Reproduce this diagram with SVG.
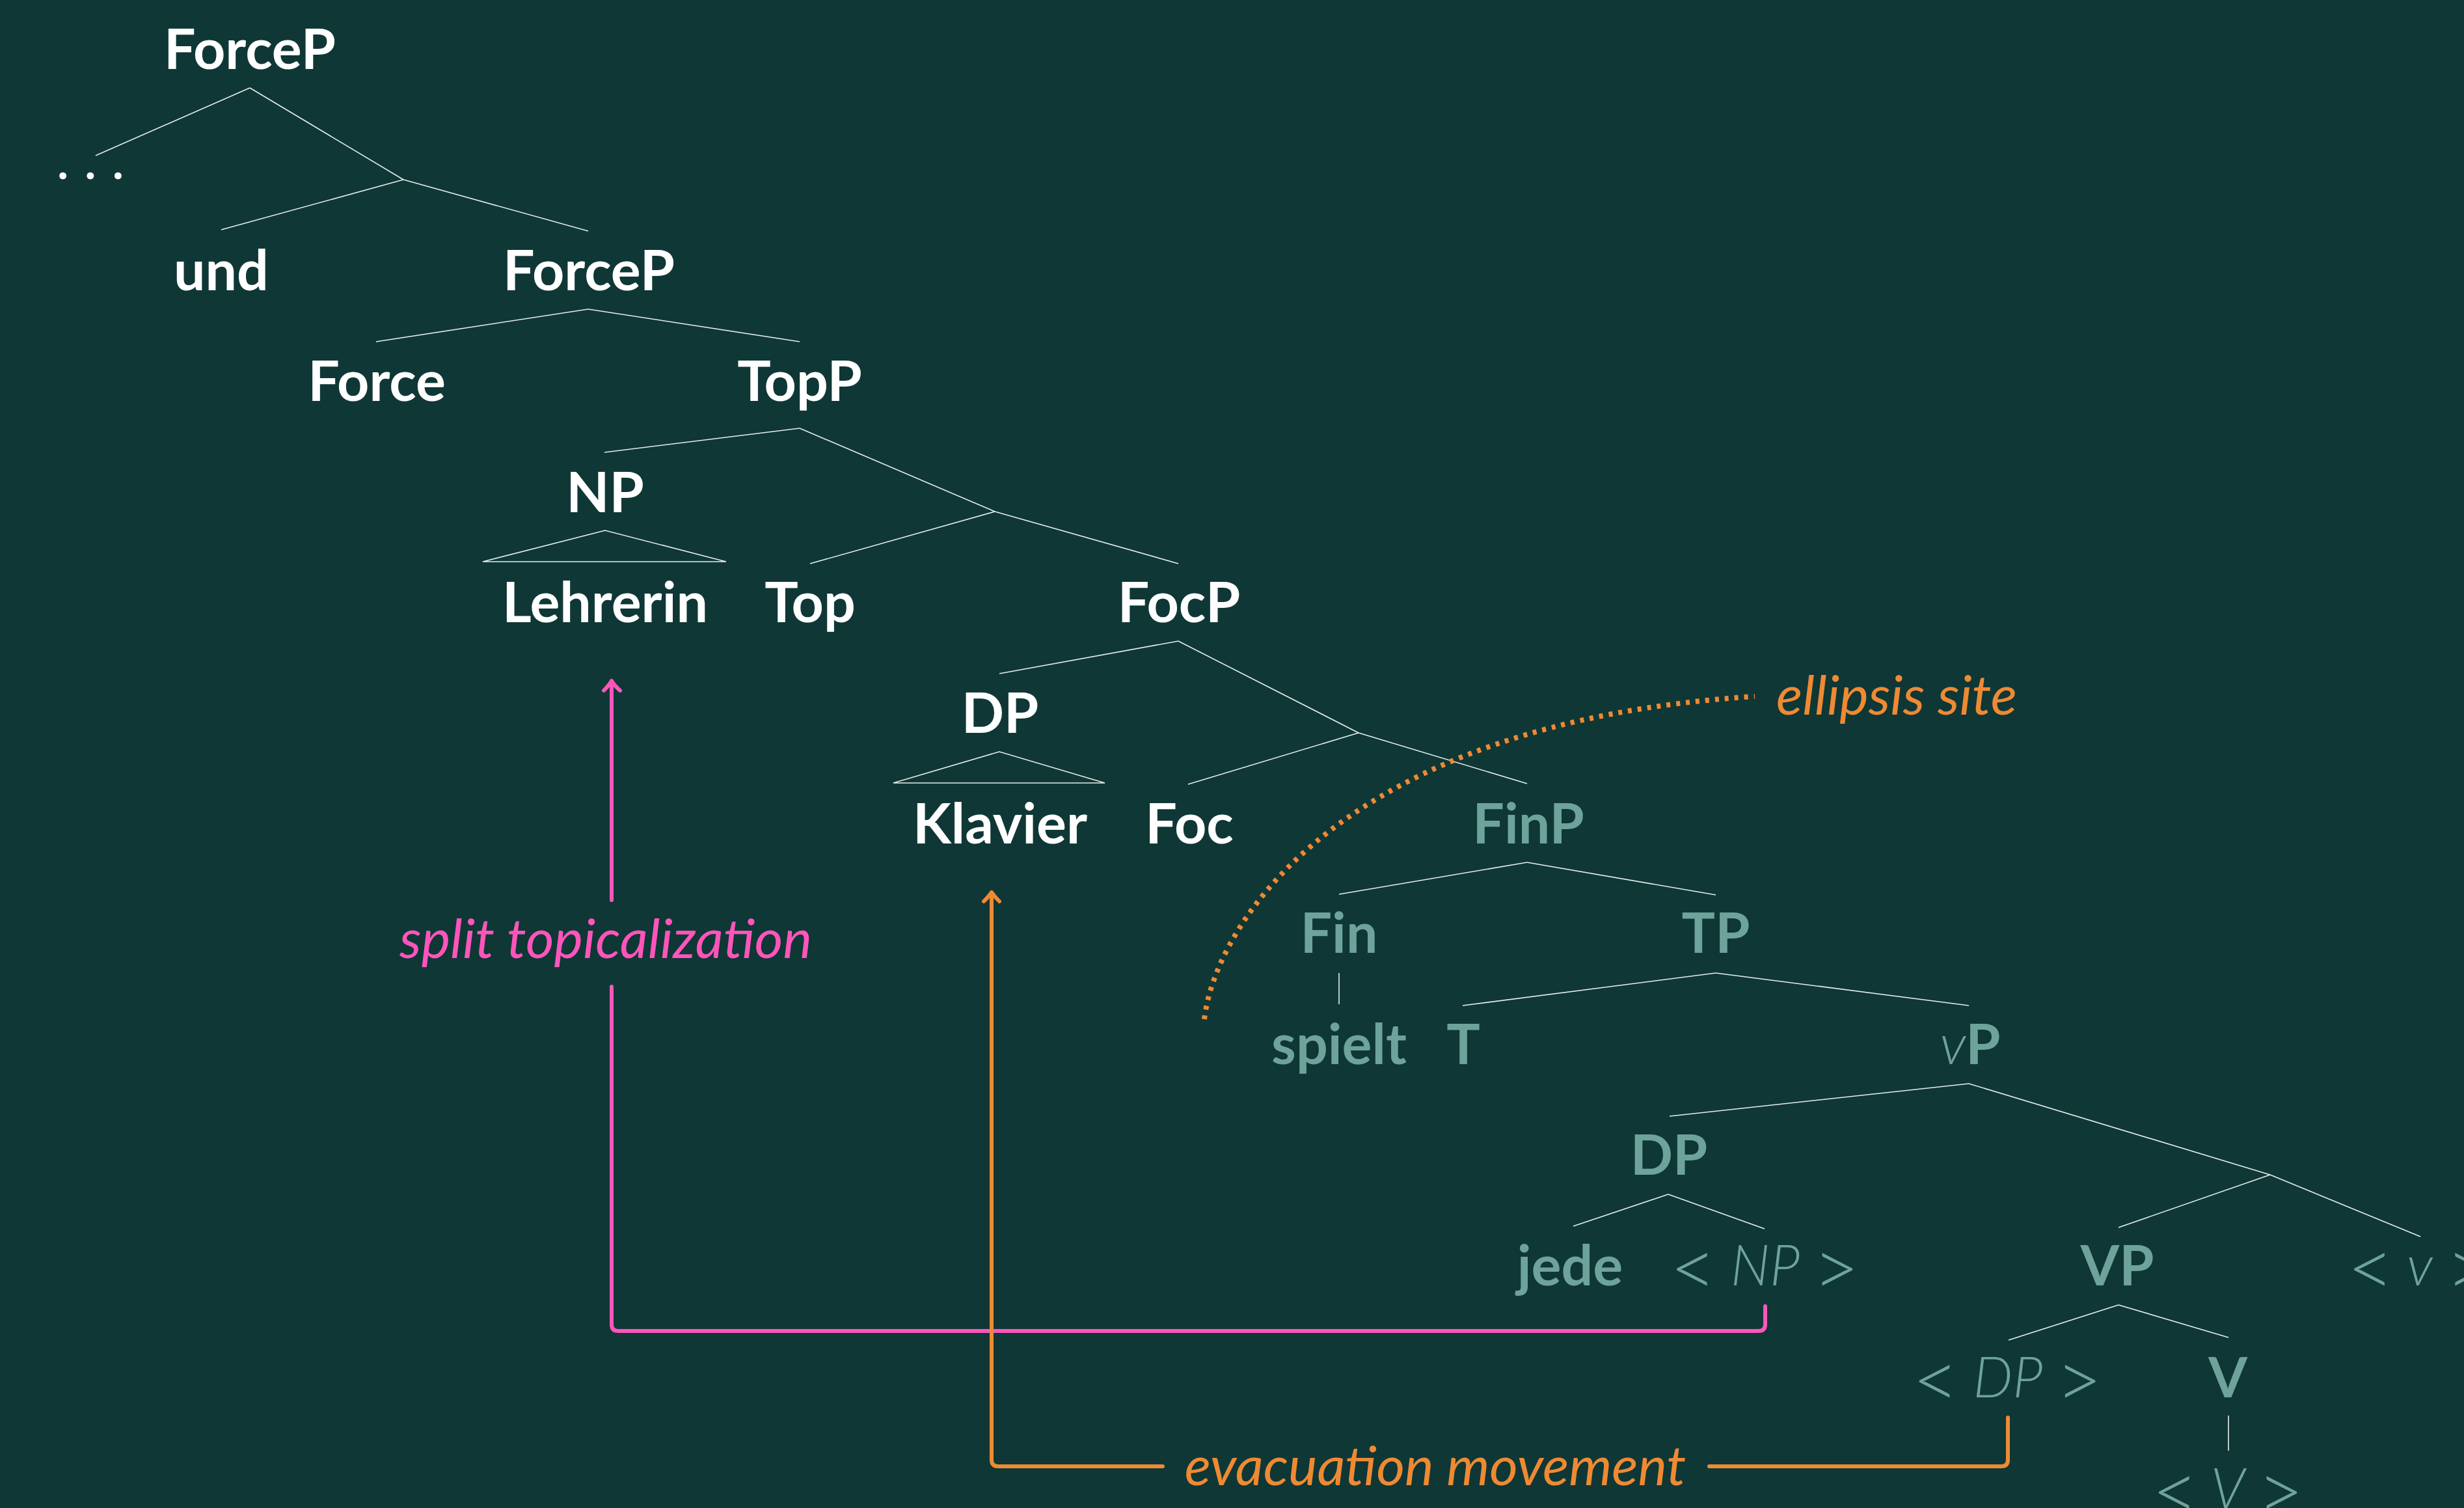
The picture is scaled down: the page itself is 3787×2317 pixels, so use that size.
<svg xmlns="http://www.w3.org/2000/svg" width="3787" height="2317" viewBox="0 0 3787 2317">
<style>
.n{font-family:Lato,"Noto Sans",sans-serif;font-weight:700;font-size:86px;text-anchor:middle}
.w{fill:#ffffff}
.t{fill:#6ea39c}
.it{font-family:Lato,"Noto Sans",sans-serif;font-style:italic;font-weight:300}
.br{font-style:normal;font-weight:300;font-size:124px}
.lab{font-family:Lato,"Noto Sans",sans-serif;font-style:italic;font-weight:400;font-size:84px}
.e line,.e polygon{stroke:#e6eeed;stroke-width:1.6;fill:none}
.pk{stroke:#ff55bb;stroke-width:6;fill:none;stroke-linecap:round;stroke-linejoin:round}
.or{stroke:#ef8a33;stroke-width:6;fill:none;stroke-linecap:round;stroke-linejoin:round}
</style>
<rect width="3787" height="2317" fill="#0f3736"/>
<g id="edges" class="e">
<line x1="384" y1="135" x2="147" y2="239"/>
<line x1="384" y1="135" x2="620" y2="276"/>
<line x1="620" y1="276" x2="340" y2="353"/>
<line x1="620" y1="276" x2="904" y2="355"/>
<line x1="904" y1="475" x2="578" y2="525"/>
<line x1="904" y1="475" x2="1229" y2="525"/>
<line x1="1229" y1="658" x2="929" y2="695"/>
<line x1="1229" y1="658" x2="1529" y2="786"/>
<line x1="1529" y1="786" x2="1245" y2="866"/>
<line x1="1529" y1="786" x2="1811" y2="866"/>
<polygon points="930,815 742,863 1116,863"/>
<line x1="1811" y1="985" x2="1536" y2="1035"/>
<line x1="1811" y1="985" x2="2088" y2="1126"/>
<line x1="2088" y1="1126" x2="1826" y2="1205"/>
<line x1="2088" y1="1126" x2="2347" y2="1204"/>
<polygon points="1536,1155 1373,1203 1698,1203"/>
<line x1="2347" y1="1325" x2="2058" y2="1374"/>
<line x1="2347" y1="1325" x2="2637" y2="1375"/>
<line x1="2058" y1="1495" x2="2058" y2="1543"/>
<line x1="2637" y1="1495" x2="2248" y2="1545"/>
<line x1="2637" y1="1495" x2="3026" y2="1545"/>
<line x1="3026" y1="1665" x2="2566" y2="1715"/>
<line x1="3026" y1="1665" x2="3489" y2="1805"/>
<line x1="3489" y1="1805" x2="3256" y2="1886"/>
<line x1="3489" y1="1805" x2="3720" y2="1900"/>
<line x1="2564" y1="1835" x2="2418" y2="1884"/>
<line x1="2564" y1="1835" x2="2712" y2="1888"/>
<line x1="3256" y1="2005" x2="3087" y2="2059"/>
<line x1="3256" y1="2005" x2="3425" y2="2055"/>
<line x1="3425" y1="2175" x2="3425" y2="2229"/>
</g>
<g id="nodes">
<g id="n-forcep1"><text class="n w" x="384" y="106">ForceP</text></g>
<g id="n-dots"><text class="n w" x="139" y="275" style="font-weight:400">. . .</text></g>
<g id="n-und"><text class="n w" x="340" y="446">und</text></g>
<g id="n-forcep2"><text class="n w" x="905" y="446">ForceP</text></g>
<g id="n-force"><text class="n w" x="579" y="616">Force</text></g>
<g id="n-topp"><text class="n w" x="1229" y="616">TopP</text></g>
<g id="n-np"><text class="n w" x="930" y="787">NP</text></g>
<g id="n-lehrerin"><text class="n w" x="930" y="956">Lehrerin</text></g>
<g id="n-top"><text class="n w" x="1245" y="956">Top</text></g>
<g id="n-focp"><text class="n w" x="1812" y="956">FocP</text></g>
<g id="n-dp1"><text class="n w" x="1537" y="1126">DP</text></g>
<g id="n-klavier"><text class="n w" x="1537" y="1296">Klavier</text></g>
<g id="n-foc"><text class="n w" x="1828" y="1296">Foc</text></g>
<g id="n-finp"><text class="n t" x="2349" y="1296">FinP</text></g>
<g id="n-fin"><text class="n t" x="2058" y="1464">Fin</text></g>
<g id="n-tp"><text class="n t" x="2637" y="1464">TP</text></g>
<g id="n-spielt"><text class="n t" x="2058" y="1635">spielt</text></g>
<g id="n-t"><text class="n t" x="2249" y="1635">T</text></g>
<g id="n-vp"><text class="n t" x="3028" y="1635"><tspan class="it">v</tspan>P</text></g>
<g id="n-dp2"><text class="n t" x="2565" y="1805">DP</text></g>
<g id="n-jede"><text class="n t" x="2413" y="1975">jede</text></g>
<g id="n-npt"><text class="n t it" x="2712" y="1975"><tspan class="br" dy="17">&lt;</tspan><tspan dy="-17"> NP </tspan><tspan class="br" dy="17">&gt;</tspan></text></g>
<g id="n-vp2"><text class="n t" x="3254" y="1975">VP</text></g>
<g id="n-vt"><text class="n t it" x="3719" y="1975"><tspan class="br" dy="17">&lt;</tspan><tspan dy="-17"> v </tspan><tspan class="br" dy="17">&gt;</tspan></text></g>
<g id="n-dpt"><text class="n t it" x="3085" y="2147"><tspan class="br" dy="17">&lt;</tspan><tspan dy="-17"> DP </tspan><tspan class="br" dy="17">&gt;</tspan></text></g>
<g id="n-v"><text class="n t" x="3424" y="2147">V</text></g>
<g id="n-vtt"><text class="n t it" x="3424" y="2318"><tspan class="br" dy="17">&lt;</tspan><tspan dy="-17"> V </tspan><tspan class="br" dy="17">&gt;</tspan></text></g>
</g>
<g id="connectors">
<path class="pk" d="M940,1050 V1383 M940,1516 V2035 Q940,2045 950,2045 H2703 Q2713,2045 2713,2035 V2007"/>
<path class="pk" d="M928,1061 Q936,1053 940,1046 Q944,1053 953,1061"/>
<path class="or" d="M1524,1375 V2243 Q1524,2253 1534,2253 H1787 M2627,2253 H3076 Q3086,2253 3086,2243 V2178"/>
<path class="or" d="M1512,1385 Q1520,1377 1524,1371 Q1528,1377 1536,1385"/>
<path d="M1851,1566 C1868,1420 2060,1110 2697,1070" stroke="#ef8a33" stroke-width="8" fill="none" stroke-dasharray="6 9"/>
</g>
<g id="labels">
<text class="lab" x="931" y="1472" text-anchor="middle" fill="#ff55bb">split topicalization</text>
<text class="lab" x="2730" y="1098" fill="#ef8a33">ellipsis site</text>
<text class="lab" x="2206" y="2282" text-anchor="middle" fill="#ef8a33">evacuation movement</text>
</g>
</svg>
